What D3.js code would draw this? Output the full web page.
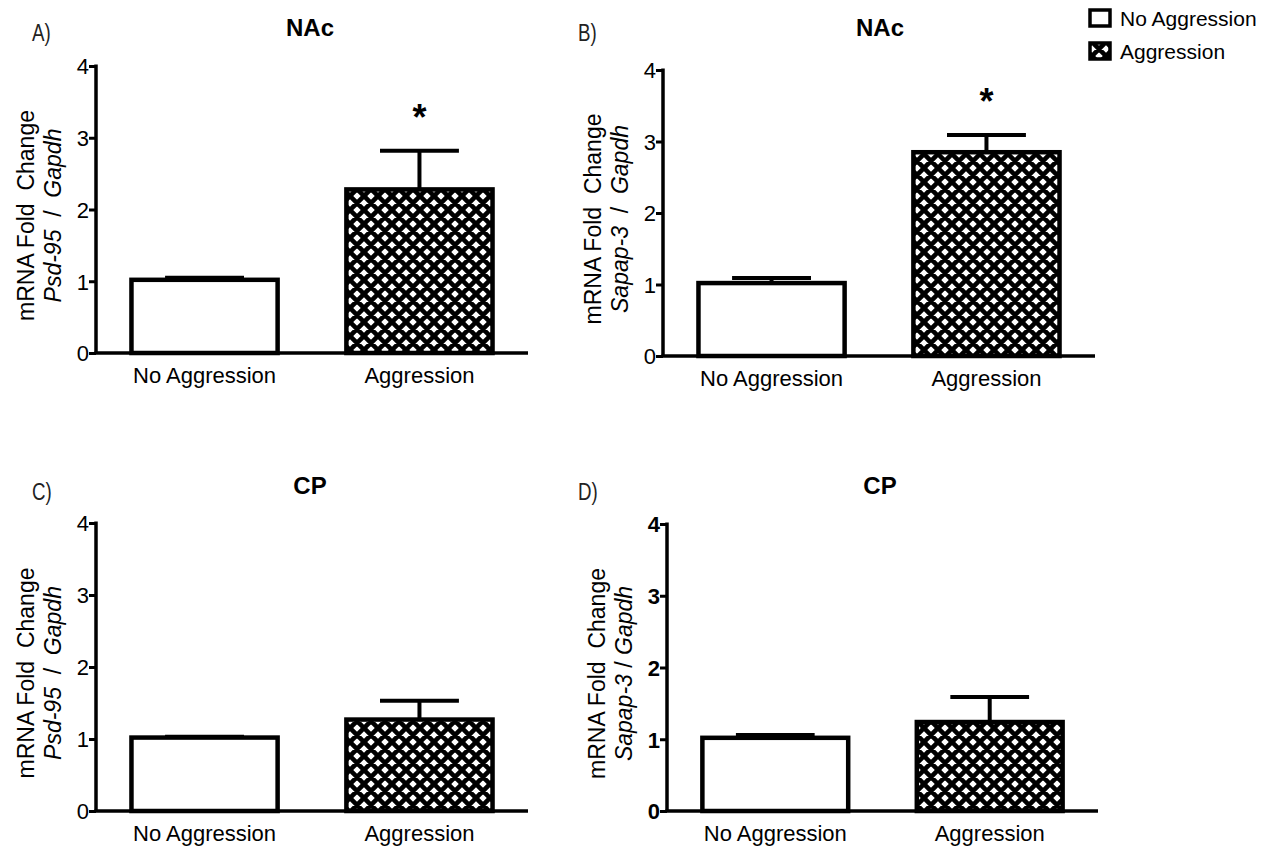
<!DOCTYPE html>
<html><head><meta charset="utf-8">
<script src="https://cdn.jsdelivr.net/npm/d3@7"></script>
<style>body{margin:0;background:#fff}svg{display:block}</style>
</head><body>
<svg id="c" width="1270" height="849"></svg>
<script>
const categories = ["No Aggression", "Aggression"];
const panelLetters = ["A)", "B)", "C)", "D)"];
const regions = ["NAc", "NAc", "CP", "CP"];
const genes = ["Psd-95", "Sapap-3", "Psd-95", "Sapap-3"];
const means = [[1.02, 2.28], [1.02, 2.85], [1.02, 1.27], [1.02, 1.24]];
const sems = [[0.03, 0.54], [0.07, 0.24], [0.01, 0.26], [0.04, 0.35]];
const significant = [[false, true], [false, true], [false, false], [false, false]];
const yTicks = [0, 1, 2, 3, 4];

const svg = d3.select("#c");
const defs = svg.append("defs");
const P = 14;
const pat = defs.append("pattern").attr("id", "hatch").attr("patternUnits", "userSpaceOnUse")
  .attr("width", P).attr("height", P);
pat.append("rect").attr("width", P).attr("height", P).attr("fill", "#fff");
const h = P / 2;
pat.append("path").attr("d",
  `M${-h},${h} L${h},${-h} M0,${P} L${P},0 M${h},${P + h} L${P + h},${h} ` +
  `M${-h},${h} L${h},${P + h} M0,0 L${P},${P} M${h},${-h} L${P + h},${h}`)
  .attr("stroke", "#000").attr("stroke-width", 4.6);

const FONT = "Liberation Sans, Arial, sans-serif";
const layout = [
  {ax: 96, top: 66, bottom: 353, right: 528, lx: 32, ly: 41, tx: 310, ty: 36, boldTicks: false},
  {ax: 663, top: 70, bottom: 356, right: 1095, lx: 578, ly: 41, tx: 880, ty: 36, boldTicks: false},
  {ax: 96, top: 523, bottom: 811, right: 528, lx: 32, ly: 500, tx: 310, ty: 494, boldTicks: false},
  {ax: 667, top: 524, bottom: 811, right: 1098, lx: 578, ly: 500, tx: 880, ty: 494, boldTicks: true}
];

layout.forEach((L, p) => {
  const g = svg.append("g");
  const y = d3.scaleLinear().domain([0, 4]).range([L.bottom, L.top]);
  const x = d3.scaleBand().domain(categories).range([L.ax, L.right]).paddingInner(0.32).paddingOuter(0.165);

  categories.forEach((c, i) => {
    const v = means[p][i];
    const bx = x(c), bw = x.bandwidth();
    const cx = bx + bw / 2;
    const top = y(v + sems[p][i]);
    g.append("line").attr("x1", cx).attr("x2", cx).attr("y1", y(v)).attr("y2", top)
      .attr("stroke", "#000").attr("stroke-width", 4);
    g.append("line").attr("x1", cx - bw * 0.27).attr("x2", cx + bw * 0.27).attr("y1", top).attr("y2", top)
      .attr("stroke", "#000").attr("stroke-width", 4);
    g.append("rect").attr("x", bx).attr("y", y(v)).attr("width", bw).attr("height", y(0) - y(v))
      .attr("fill", i === 0 ? "#fff" : "url(#hatch)").attr("stroke", "#000").attr("stroke-width", 4.5);
    if (significant[p][i]) {
      g.append("text").attr("x", cx).attr("y", top - 21).attr("text-anchor", "middle")
        .attr("font-family", FONT).attr("font-weight", "bold").attr("font-size", 36).text("*");
    }
  });

  const yAxis = d3.axisLeft(y).tickValues(yTicks).tickSize(7).tickSizeOuter(0).tickFormat(d3.format("d"));
  const ya = g.append("g").attr("transform", `translate(${L.ax},0)`).call(yAxis);
  ya.select(".domain").attr("stroke", "#000").attr("stroke-width", 3.5).attr("d", `M0,${L.top - 1.5}V${L.bottom}`);
  ya.selectAll(".tick line").attr("stroke", "#000").attr("stroke-width", 3);
  ya.selectAll(".tick text").attr("font-family", FONT).attr("font-size", 22).attr("fill", "#000")
    .attr("font-weight", L.boldTicks ? "bold" : "normal").attr("x", -7).attr("dy", "0.36em");

  const xAxis = d3.axisBottom(x).tickSize(0).tickSizeOuter(0);
  const xa = g.append("g").attr("transform", `translate(0,${L.bottom})`).call(xAxis);
  xa.select(".domain").attr("stroke", "#000").attr("stroke-width", 3.5).attr("d", `M${L.ax - 1.5},0H${L.right}`);
  xa.selectAll(".tick text").attr("font-family", FONT).attr("font-size", 22).attr("fill", "#000").attr("dy", 0).attr("y", 30);

  const midY = (L.top + L.bottom) / 2 + 6;
  const lab = g.append("text").attr("transform", `translate(${L.ax - 62},${midY}) rotate(-90)`)
    .attr("text-anchor", "middle").attr("font-family", FONT).attr("font-size", 23).attr("fill", "#000");
  lab.append("tspan").attr("xml:space", "preserve").text("mRNA Fold  Change");
  const l2 = g.append("text").attr("transform", `translate(${L.ax - 35},${midY}) rotate(-90)`)
    .attr("text-anchor", "middle").attr("font-family", FONT).attr("font-size", 23).attr("fill", "#000")
    .attr("xml:space", "preserve");
  l2.append("tspan").attr("font-style", "italic").text(genes[p]);
  l2.append("tspan").text(p === 3 ? " / " : "  /  ");
  l2.append("tspan").attr("font-style", "italic").text("Gapdh");

  g.append("text").attr("x", L.tx).attr("y", L.ty).attr("text-anchor", "middle").attr("font-family", FONT)
    .attr("font-weight", "bold").attr("font-size", 24).text(regions[p]);
  g.append("text").attr("transform", `translate(${L.lx},${L.ly}) scale(0.78,1)`).attr("font-family", FONT)
    .attr("font-size", 24).attr("fill", "#222").text(panelLetters[p]);
});

const lg = svg.append("g");
categories.forEach((c, i) => {
  const yy = 10 + i * 33;
  lg.append("rect").attr("x", 1090).attr("y", yy).attr("width", 20).attr("height", 16)
    .attr("fill", i === 0 ? "#fff" : "url(#hatch)").attr("stroke", "#000").attr("stroke-width", 3.5);
  lg.append("text").attr("x", 1120).attr("y", yy + 16).attr("font-family", FONT).attr("font-size", 21).text(c);
});
</script>
</body></html>
